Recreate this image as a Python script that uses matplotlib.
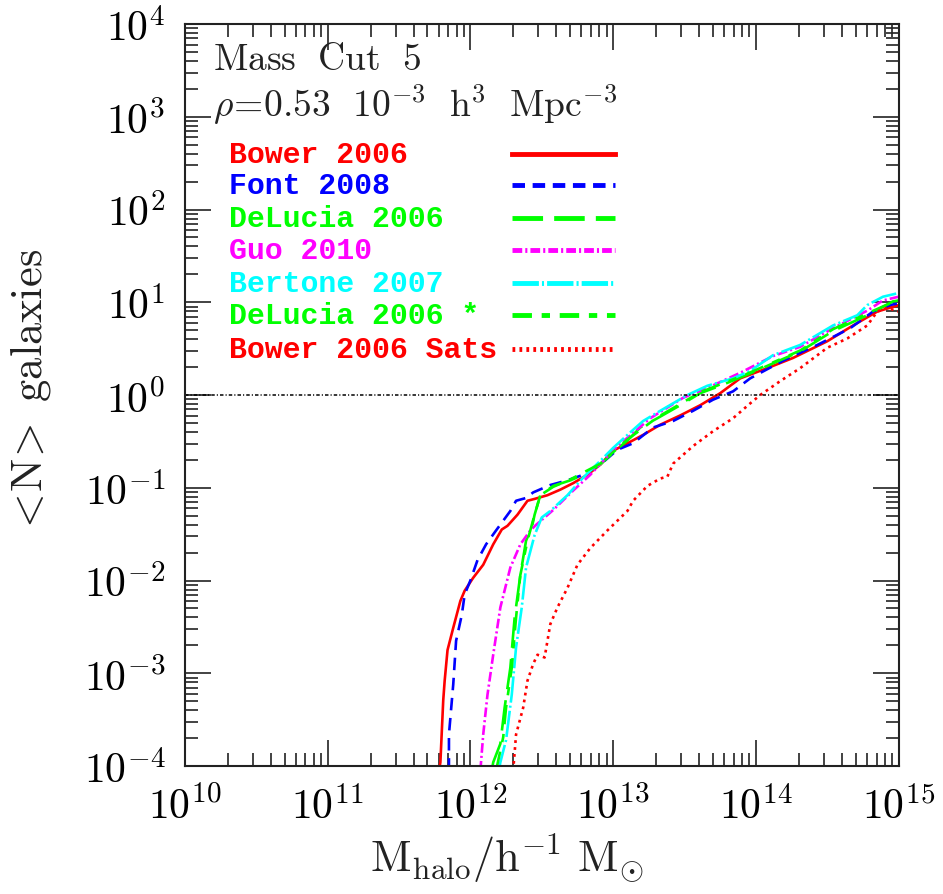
import numpy as np
import matplotlib
matplotlib.use('Agg')
import matplotlib.pyplot as plt
from matplotlib.ticker import LogLocator, FuncFormatter, NullFormatter

plt.rcParams['mathtext.fontset'] = 'cm'
plt.rcParams['lines.scale_dashes'] = False

###### DATA (log10 M_halo, log10 <N>) ######

bower_lm = [11.78, 11.79, 11.81, 11.82, 11.84, 11.88, 11.93, 11.96, 12.02, 12.09, 12.16, 12.22,
            12.26, 12.33, 12.40, 12.45, 12.54, 12.63, 12.72, 12.82, 12.91, 13.00, 13.10, 13.21,
            13.33, 13.47, 13.61, 13.75, 13.89, 14.08, 14.26, 14.50, 14.68, 14.85, 15.00]
bower_ln = [-4.05, -3.96, -3.29, -3.08, -2.75, -2.51, -2.22, -2.11, -1.97, -1.83, -1.61, -1.45,
            -1.41, -1.29, -1.14, -1.12, -1.08, -1.02, -0.95, -0.86, -0.75, -0.60, -0.52, -0.43,
            -0.32, -0.22, -0.11, 0.02, 0.18, 0.29, 0.40, 0.58, 0.75, 0.90, 0.97]

font_lm = [11.85, 11.85, 11.88, 11.90, 11.94, 11.96, 12.00, 12.05, 12.11, 12.18, 12.28, 12.32,
           12.39, 12.44, 12.56, 12.68, 12.79, 12.91, 13.03, 13.14, 13.28, 13.42, 13.56, 13.70,
           13.84, 13.96, 14.19, 14.43, 14.66, 14.82, 14.94, 15.00]
font_ln = [-4.05, -3.66, -3.12, -2.65, -2.37, -2.15, -2.00, -1.78, -1.61, -1.46, -1.25, -1.14,
           -1.11, -1.05, -0.97, -0.92, -0.86, -0.75, -0.59, -0.52, -0.35, -0.28, -0.17, -0.05,
           0.04, 0.18, 0.37, 0.54, 0.72, 0.90, 0.97, 0.99]

delucia_lm = [12.15, 12.16, 12.21, 12.24, 12.28, 12.31, 12.35, 12.39, 12.43, 12.45, 12.49, 12.58,
              12.70, 12.79, 12.91, 13.00, 13.10, 13.19, 13.31, 13.47, 13.61, 13.75, 13.94, 14.31,
              14.54, 14.78, 14.96, 15.00]
delucia_ln = [-4.05, -3.96, -3.76, -3.37, -2.94, -2.40, -1.94, -1.57, -1.43, -1.29, -1.08, -0.98,
              -0.92, -0.86, -0.75, -0.62, -0.49, -0.35, -0.25, -0.11, 0.02, 0.10, 0.22, 0.47,
              0.69, 0.86, 1.01, 1.02]

guo_lm = [12.07, 12.09, 12.12, 12.16, 12.21, 12.28, 12.35, 12.42, 12.46, 12.58, 12.72, 12.84,
          12.93, 13.03, 13.14, 13.26, 13.49, 13.68, 13.89, 14.12, 14.31, 14.54, 14.78, 14.89, 15.00]
guo_ln = [-4.05, -3.66, -3.23, -2.80, -2.29, -1.86, -1.61, -1.46, -1.40, -1.24, -1.03, -0.86,
          -0.71, -0.55, -0.41, -0.25, -0.03, 0.09, 0.24, 0.42, 0.52, 0.72, 0.91, 1.02, 1.06]

bertone_lm = [12.20, 12.21, 12.25, 12.29, 12.32, 12.36, 12.39, 12.45, 12.50, 12.56, 12.68, 12.79,
              12.91, 13.00, 13.10, 13.21, 13.33, 13.52, 13.66, 13.84, 13.96, 14.12, 14.31, 14.54,
              14.71, 14.78, 14.89, 15.00]
bertone_ln = [-4.05, -3.96, -3.72, -3.23, -2.72, -2.29, -1.86, -1.51, -1.32, -1.25, -1.08, -0.89,
              -0.71, -0.57, -0.43, -0.28, -0.17, 0.00, 0.10, 0.18, 0.26, 0.43, 0.54, 0.75,
              0.86, 0.97, 1.06, 1.10]

delucia2_lm = [12.18, 12.23, 12.25, 12.29, 12.32, 12.35, 12.40, 12.45, 12.49, 12.58, 12.70, 12.91,
               13.10, 13.31, 13.61, 13.94, 14.31, 14.54, 14.78, 15.00]
delucia2_ln = [-4.05, -3.69, -3.37, -2.94, -2.40, -1.94, -1.57, -1.29, -1.08, -0.99, -0.91, -0.74,
               -0.48, -0.24, 0.03, 0.23, 0.48, 0.71, 0.88, 1.03]

sats_lm = [12.30, 12.32, 12.37, 12.40, 12.44, 12.47, 12.52, 12.56, 12.61, 12.68, 12.75, 12.84,
           12.96, 13.10, 13.14, 13.24, 13.33, 13.38, 13.42, 13.56, 13.70, 13.84, 13.96, 14.03,
           14.17, 14.31, 14.50, 14.64, 14.78, 14.85, 14.92, 15.00]
sats_ln = [-4.05, -3.66, -3.37, -3.08, -2.90, -2.80, -2.83, -2.47, -2.29, -2.08, -1.83, -1.65,
           -1.46, -1.25, -1.14, -0.98, -0.90, -0.88, -0.74, -0.55, -0.39, -0.25, -0.09, 0.00,
           0.15, 0.29, 0.51, 0.61, 0.75, 0.90, 0.94, 0.90]

labels = ['Bower 2006', 'Font 2008', 'DeLucia 2006', 'Guo 2010',
          'Bertone 2007', 'DeLucia 2006 *', 'Bower 2006 Sats']
colors = ['#ff0000', '#0000ff', '#00ff00', '#ff00ff', '#00ffff', '#00ff00', '#ff0000']
styles = ['-', (0, (9, 5.5)), (0, (22, 8)), (0, (7, 2.2, 1.5, 2.2)),
          (0, (19, 2.2, 1.5, 2.2)), (0, (14, 7, 6, 7)), (0, (2, 3))]
curves = [(bower_lm, bower_ln), (font_lm, font_ln), (delucia_lm, delucia_ln), (guo_lm, guo_ln),
          (bertone_lm, bertone_ln), (delucia2_lm, delucia2_ln), (sats_lm, sats_ln)]

###### PLOT ######

fig = plt.figure(figsize=(9.43, 8.95), dpi=100)
ax = fig.add_axes([0.196, 0.143, 0.757, 0.829])

for (lm, ln), c, ls in zip(curves, colors, styles):
    ax.plot(10 ** np.array(lm), 10 ** np.array(ln), color=c, ls=ls, lw=1.9)

ax.axhline(1.0, color='k', lw=1.1, ls=(0, (2.5, 1.5, 0.8, 1.5)))

ax.set_xscale('log')
ax.set_yscale('log')
ax.set_xlim(1e10, 1e15)
ax.set_ylim(1e-4, 1e4)

fmt = FuncFormatter(lambda v, p: r'$10^{%d}$' % int(round(np.log10(v))))
for axis in (ax.xaxis, ax.yaxis):
    axis.set_major_locator(LogLocator(base=10, numticks=20))
    axis.set_minor_locator(LogLocator(base=10, subs=np.arange(2, 10), numticks=100))
    axis.set_major_formatter(fmt)
    axis.set_minor_formatter(NullFormatter())

ax.tick_params(which='both', direction='in', top=True, right=True, width=1.2, color='#222222')
ax.tick_params(which='major', length=19, labelsize=30, pad=14)
ax.tick_params(which='minor', length=9.5)
for s in ax.spines.values():
    s.set_linewidth(1.5)
    s.set_color('#222222')

ax.text(0.451, -0.123, r'$\mathrm{M_{halo}/h^{-1}\ M_{\odot}}$', transform=ax.transAxes,
        ha='center', va='center', fontsize=32, color='#222222')
ax.text(-0.216, 0.505, r'$<\!\mathrm{N}\!>\ \mathrm{galaxies}$', transform=ax.transAxes,
        ha='center', va='center', rotation=90, fontsize=32, color='#222222')

ax.text(0.039, 0.953, r'$\mathrm{Mass\ \ Cut\ \ 5}$', transform=ax.transAxes,
        ha='left', va='center', fontsize=27, color='#222222')
ax.text(0.039, 0.892, r'$\rho\!=\!0.53\ \ 10^{-3}\ \ \mathrm{h}^{3}\ \ \mathrm{Mpc}^{-3}$',
        transform=ax.transAxes, ha='left', va='center', fontsize=27, color='#222222')

# legend drawn by hand, text left and line sample right
rows = [0.825, 0.783, 0.739, 0.695, 0.651, 0.608, 0.562]
for lab, c, ls, yy in zip(labels, colors, styles, rows):
    ax.text(0.0616, yy, lab, transform=ax.transAxes, ha='left', va='center',
            fontsize=21.5, fontweight='bold', family='Liberation Mono', color=c)
    ax.plot([0.459, 0.602], [yy, yy], transform=ax.transAxes, color=c, ls=ls, lw=3.5)

fig.savefig('out.png', dpi=100)
